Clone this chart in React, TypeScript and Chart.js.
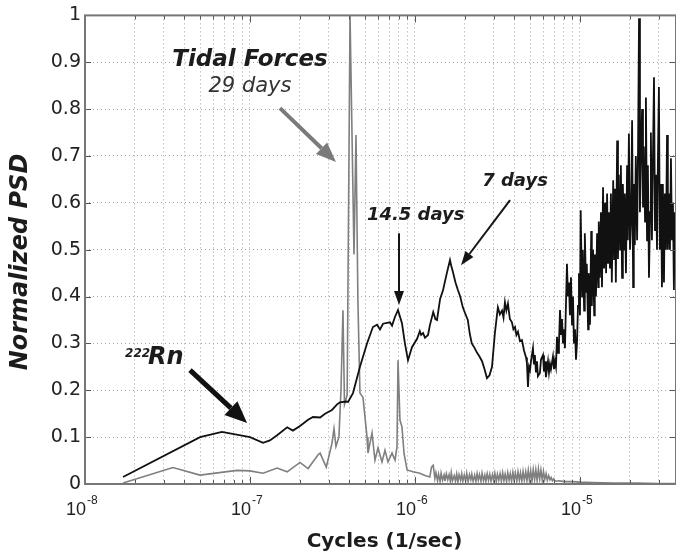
import { useEffect, useRef } from 'react';
import { Chart, registerables } from 'chart.js';

Chart.register(...registerables);

// ---- Data ----
// 222Rn spectrum (black)
const rnFreq = [
  1.70e-8, 4.98e-8, 6.76e-8, 1.00e-7, 1.20e-7, 1.32e-7, 1.46e-7, 1.68e-7, 1.82e-7, 2.01e-7,
  2.25e-7, 2.41e-7, 2.66e-7, 2.85e-7, 3.14e-7, 3.37e-7, 3.51e-7, 3.82e-7, 3.93e-7, 4.21e-7,
  4.64e-7, 5.12e-7, 5.56e-7, 5.89e-7, 6.14e-7, 6.40e-7, 7.05e-7, 7.26e-7, 7.57e-7, 7.89e-7,
  8.34e-7, 8.69e-7, 9.07e-7, 9.59e-7, 1.03e-6, 1.07e-6, 1.09e-6, 1.12e-6, 1.15e-6, 1.20e-6,
  1.23e-6, 1.29e-6, 1.33e-6, 1.36e-6, 1.42e-6, 1.48e-6, 1.56e-6, 1.63e-6, 1.66e-6, 1.70e-6,
  1.76e-6, 1.82e-6, 1.88e-6, 1.95e-6, 2.01e-6, 2.09e-6, 2.15e-6, 2.21e-6, 2.30e-6, 2.38e-6,
  2.46e-6, 2.55e-6, 2.64e-6, 2.73e-6, 2.83e-6, 2.93e-6, 3.05e-6, 3.18e-6, 3.27e-6, 3.37e-6,
  3.44e-6, 3.51e-6, 3.58e-6, 3.66e-6, 3.76e-6, 3.87e-6, 3.95e-6, 4.04e-6, 4.12e-6, 4.21e-6,
  4.33e-6,
  4.45e-6, 4.58e-6, 4.71e-6, 4.77e-6, 4.84e-6, 4.91e-6, 4.98e-6, 5.05e-6, 5.19e-6, 5.26e-6,
  5.33e-6, 5.41e-6, 5.49e-6, 5.56e-6, 5.72e-6, 5.80e-6, 5.97e-6, 6.05e-6, 6.14e-6, 6.22e-6,
  6.40e-6, 6.49e-6, 6.58e-6, 6.67e-6, 6.86e-6, 6.96e-6, 7.05e-6, 7.15e-6, 7.26e-6, 7.36e-6,
  7.46e-6, 7.57e-6, 7.68e-6, 7.78e-6, 7.89e-6, 8.00e-6, 8.11e-6, 8.22e-6, 8.34e-6, 8.46e-6,
  8.58e-6, 8.69e-6, 8.82e-6, 8.95e-6, 9.07e-6, 9.20e-6, 9.33e-6, 9.46e-6, 9.59e-6, 9.73e-6,
  9.86e-6, 1.00e-5, 1.01e-5, 1.03e-5, 1.04e-5, 1.06e-5, 1.07e-5, 1.09e-5, 1.10e-5, 1.12e-5,
  1.13e-5, 1.15e-5, 1.17e-5, 1.18e-5, 1.20e-5, 1.22e-5, 1.23e-5, 1.25e-5, 1.27e-5, 1.29e-5,
  1.30e-5, 1.32e-5, 1.34e-5, 1.36e-5, 1.38e-5, 1.40e-5, 1.42e-5, 1.44e-5, 1.46e-5, 1.48e-5,
  1.50e-5, 1.52e-5, 1.54e-5, 1.56e-5, 1.59e-5, 1.61e-5, 1.63e-5, 1.65e-5, 1.68e-5, 1.70e-5,
  1.72e-5, 1.75e-5, 1.77e-5, 1.80e-5, 1.82e-5, 1.85e-5, 1.87e-5, 1.90e-5, 1.93e-5, 1.95e-5,
  1.98e-5, 2.01e-5, 2.04e-5, 2.07e-5, 2.10e-5, 2.12e-5, 2.15e-5, 2.18e-5, 2.22e-5, 2.25e-5,
  2.28e-5, 2.31e-5, 2.34e-5, 2.38e-5, 2.41e-5, 2.44e-5, 2.48e-5, 2.51e-5, 2.55e-5, 2.58e-5,
  2.62e-5, 2.66e-5, 2.69e-5, 2.73e-5, 2.77e-5, 2.81e-5, 2.85e-5, 2.89e-5, 2.93e-5, 2.97e-5,
  3.01e-5, 3.05e-5, 3.10e-5, 3.14e-5, 3.18e-5, 3.23e-5, 3.27e-5, 3.32e-5, 3.37e-5, 3.41e-5,
  3.46e-5, 3.51e-5, 3.56e-5, 3.61e-5, 3.66e-5, 3.71e-5, 3.76e-5, 3.82e-5,
];
const rnPsd = [
  0.015, 0.100, 0.111, 0.100, 0.088, 0.093, 0.104, 0.121, 0.114, 0.124,
  0.137, 0.143, 0.142, 0.150, 0.158, 0.170, 0.174, 0.176, 0.175, 0.194,
  0.250, 0.300, 0.335, 0.340, 0.330, 0.342, 0.345, 0.338, 0.357, 0.371,
  0.343, 0.300, 0.264, 0.292, 0.310, 0.326, 0.318, 0.322, 0.312, 0.318,
  0.338, 0.367, 0.352, 0.350, 0.395, 0.414, 0.450, 0.478, 0.465, 0.452,
  0.430, 0.414, 0.400, 0.377, 0.365, 0.350, 0.320, 0.300, 0.290, 0.280,
  0.272, 0.262, 0.245, 0.226, 0.232, 0.250, 0.322, 0.377, 0.362, 0.370,
  0.355, 0.388, 0.370, 0.385, 0.352, 0.345, 0.330, 0.335, 0.318, 0.325,
  0.305,
  0.307, 0.285, 0.270, 0.258, 0.207, 0.250, 0.243, 0.262, 0.290, 0.255,
  0.275, 0.238, 0.262, 0.230, 0.237, 0.265, 0.275, 0.240, 0.262, 0.228,
  0.262, 0.238, 0.256, 0.245, 0.272, 0.245, 0.262, 0.250, 0.314, 0.280,
  0.300, 0.371, 0.320, 0.352, 0.300, 0.330, 0.290, 0.380, 0.470, 0.400,
  0.430, 0.360, 0.441, 0.340, 0.400, 0.300, 0.330, 0.265, 0.300, 0.380,
  0.450, 0.360, 0.584, 0.400, 0.500, 0.370, 0.535, 0.410, 0.470, 0.330,
  0.450, 0.340, 0.540, 0.380, 0.500, 0.360, 0.490, 0.400, 0.535, 0.420,
  0.560, 0.440, 0.580, 0.420, 0.633, 0.460, 0.600, 0.450, 0.620, 0.470,
  0.580, 0.460, 0.620, 0.430, 0.648, 0.480, 0.630, 0.430, 0.733, 0.480,
  0.660, 0.500, 0.680, 0.440, 0.640, 0.500, 0.620, 0.450, 0.680, 0.520,
  0.748, 0.500, 0.560, 0.776, 0.420, 0.640, 0.510, 0.700, 0.520, 0.720,
  0.994, 0.580, 0.700, 0.800, 0.590, 0.720, 0.560, 0.825, 0.520, 0.680,
  0.440, 0.580, 0.750, 0.520, 0.700, 0.868, 0.540, 0.660, 0.500, 0.700,
  0.847, 0.500, 0.640, 0.420, 0.640, 0.430, 0.620, 0.500, 0.745, 0.500,
  0.620, 0.500, 0.695, 0.520, 0.600, 0.414, 0.580, 0.540,
];

// Tidal forces spectrum (gray)
const tidalFreq = [
  1.70e-8, 3.41e-8, 4.98e-8, 8.34e-8, 1.00e-7, 1.20e-7, 1.46e-7, 1.68e-7, 2.01e-7, 2.25e-7,
  2.58e-7, 2.66e-7, 2.90e-7, 3.14e-7, 3.23e-7, 3.32e-7, 3.46e-7, 3.56e-7, 3.66e-7, 3.74e-7,
  3.88e-7, 4.04e-7, 4.27e-7, 4.39e-7, 4.51e-7, 4.64e-7, 4.84e-7, 5.12e-7, 5.19e-7, 5.49e-7,
  5.72e-7, 5.97e-7, 6.31e-7, 6.58e-7, 6.86e-7, 7.26e-7, 7.57e-7, 7.78e-7, 7.89e-7, 8.11e-7,
  8.34e-7, 8.58e-7, 8.95e-7, 9.72e-7, 1.07e-6, 1.15e-6, 1.23e-6, 1.26e-6, 1.29e-6,
  1.32e-6, 1.34e-6, 1.37e-6, 1.39e-6, 1.42e-6, 1.44e-6, 1.47e-6, 1.50e-6, 1.52e-6, 1.55e-6,
  1.58e-6, 1.61e-6, 1.64e-6, 1.66e-6, 1.69e-6, 1.73e-6, 1.76e-6, 1.79e-6, 1.82e-6, 1.85e-6,
  1.89e-6, 1.92e-6, 1.95e-6, 1.99e-6, 2.03e-6, 2.06e-6, 2.10e-6, 2.14e-6, 2.18e-6, 2.21e-6,
  2.25e-6, 2.30e-6, 2.34e-6, 2.38e-6, 2.42e-6, 2.46e-6, 2.51e-6, 2.55e-6, 2.60e-6, 2.65e-6,
  2.69e-6, 2.74e-6, 2.79e-6, 2.84e-6, 2.89e-6, 2.95e-6, 3.00e-6, 3.05e-6, 3.11e-6, 3.16e-6,
  3.22e-6, 3.28e-6, 3.34e-6, 3.40e-6, 3.46e-6, 3.52e-6, 3.59e-6, 3.65e-6, 3.72e-6, 3.78e-6,
  3.85e-6, 3.92e-6, 3.99e-6, 4.06e-6, 4.14e-6, 4.21e-6, 4.29e-6, 4.36e-6, 4.44e-6, 4.52e-6,
  4.60e-6, 4.69e-6, 4.77e-6, 4.86e-6, 4.94e-6, 5.03e-6, 5.12e-6, 5.21e-6, 5.31e-6, 5.40e-6,
  5.50e-6, 5.60e-6, 5.70e-6, 5.80e-6, 5.91e-6, 6.01e-6, 6.12e-6, 6.23e-6, 6.34e-6, 6.46e-6,
  6.58e-6, 6.69e-6, 6.81e-6, 6.94e-6, 7.06e-6,
  7.50e-6, 8.00e-6, 9.00e-6, 1.00e-5, 1.20e-5, 1.60e-5, 2.20e-5, 3.00e-5, 3.82e-5,
];
const tidalPsd = [
  0.002, 0.035, 0.019, 0.029, 0.028, 0.023, 0.034, 0.026, 0.046, 0.033,
  0.062, 0.066, 0.036, 0.087, 0.118, 0.080, 0.100, 0.200, 0.371, 0.170,
  0.190, 1.000, 0.490, 0.745, 0.390, 0.194, 0.185, 0.100, 0.066, 0.109,
  0.051, 0.077, 0.047, 0.072, 0.047, 0.066, 0.051, 0.079, 0.264, 0.136,
  0.122, 0.066, 0.030, 0.026, 0.023, 0.018, 0.015, 0.036, 0.040,
  0.012, 0.024, 0.007, 0.021, 0.005, 0.023, 0.008, 0.019, 0.006, 0.022,
  0.009, 0.020, 0.005, 0.024, 0.007, 0.018, 0.006, 0.021, 0.004, 0.020,
  0.008, 0.022, 0.006, 0.019, 0.007, 0.023, 0.005, 0.020, 0.009, 0.021,
  0.006, 0.019, 0.005, 0.022, 0.008, 0.020, 0.006, 0.023, 0.007, 0.019,
  0.005, 0.022, 0.008, 0.021, 0.006, 0.020, 0.007, 0.023, 0.005, 0.021,
  0.008, 0.022, 0.006, 0.024, 0.007, 0.021, 0.005, 0.024, 0.008, 0.022,
  0.006, 0.025, 0.007, 0.023, 0.006, 0.026, 0.008, 0.024, 0.006, 0.027,
  0.008, 0.026, 0.007, 0.029, 0.008, 0.028, 0.006, 0.031, 0.009, 0.030,
  0.007, 0.032, 0.010, 0.030, 0.008, 0.027, 0.010, 0.022, 0.008, 0.018,
  0.009, 0.014, 0.007, 0.011, 0.006,
  0.007, 0.005, 0.005, 0.004, 0.003, 0.002, 0.002, 0.001, 0.001,
];

// Axis ticks
const xMin = 1e-8;
const xMax = 3.82e-5;
const xTickValues = [1e-8, 1e-7, 1e-6, 1e-5];
const xTickBases = ['10', '10', '10', '10'];
const xTickExponents = ['-8', '-7', '-6', '-5'];
const xMinorMultipliers = [2, 3, 4, 5, 6, 7, 8, 9];
const yTickValues = [0, 0.1, 0.2, 0.3, 0.4, 0.5, 0.6, 0.7, 0.8, 0.9, 1];

const xTitle = 'Cycles (1/sec)';
const yTitle = 'Normalized PSD';

// Annotations (anchored in data coordinates)
const notes = [
  { text: 'Tidal Forces', f: 1.0e-7, v: 0.893, font: 'italic bold 23px "DejaVu Sans"', color: '#1c1c1c', align: 'center' },
  { text: '29 days', f: 1.0e-7, v: 0.836, font: 'italic 21px "DejaVu Sans"', color: '#333333', align: 'center' },
  { text: '14.5 days', f: 1.01e-6, v: 0.563, font: 'italic bold 18px "DejaVu Sans"', color: '#1c1c1c', align: 'center' },
  { text: '7 days', f: 4.04e-6, v: 0.635, font: 'italic bold 18px "DejaVu Sans"', color: '#1c1c1c', align: 'center' },
  { text: '222', f: 1.75e-8, v: 0.271, font: 'italic bold 12px "DejaVu Sans"', color: '#1c1c1c', align: 'left' },
  { text: 'Rn', f: 2.41e-8, v: 0.256, font: 'italic bold 24px "DejaVu Sans"', color: '#1c1c1c', align: 'left' },
];
const arrows = [
  { f1: 1.52e-7, v1: 0.802, f2: 3.32e-7, v2: 0.687, color: '#7a7a7a', width: 4, head: 20, headW: 16 },
  { f1: 8.0e-7, v1: 0.535, f2: 8.0e-7, v2: 0.382, color: '#151515', width: 2, head: 14, headW: 10 },
  { f1: 3.77e-6, v1: 0.606, f2: 1.90e-6, v2: 0.467, color: '#151515', width: 2, head: 14, headW: 10 },
  { f1: 4.33e-8, v1: 0.243, f2: 9.6e-8, v2: 0.130, color: '#111111', width: 5, head: 22, headW: 19 },
];

function drawArrow(ctx: CanvasRenderingContext2D, x1: number, y1: number, x2: number, y2: number,
  color: string, width: number, head: number, headW: number) {
  const ang = Math.atan2(y2 - y1, x2 - x1);
  const bx = x2 - head * Math.cos(ang);
  const by = y2 - head * Math.sin(ang);
  ctx.strokeStyle = color;
  ctx.fillStyle = color;
  ctx.lineWidth = width;
  ctx.lineCap = 'butt';
  ctx.beginPath();
  ctx.moveTo(x1, y1);
  ctx.lineTo(bx, by);
  ctx.stroke();
  const nx = -Math.sin(ang) * headW / 2;
  const ny = Math.cos(ang) * headW / 2;
  ctx.beginPath();
  ctx.moveTo(x2, y2);
  ctx.lineTo(bx + nx, by + ny);
  ctx.lineTo(bx - nx, by - ny);
  ctx.closePath();
  ctx.fill();
}

const decorPlugin = {
  id: 'decor',
  afterDraw(chart: any) {
    const { ctx, chartArea: a, scales } = chart;
    const xs = scales.x;
    const ys = scales.y;
    ctx.save();
    // inner tick marks
    ctx.strokeStyle = '#555';
    ctx.lineWidth = 1;
    ctx.setLineDash([]);
    for (const t of xs.ticks) {
      const px = Math.round(xs.getPixelForValue(t.value)) + 0.5;
      const len = xTickValues.includes(t.value) ? 7 : 4;
      ctx.beginPath();
      ctx.moveTo(px, a.bottom);
      ctx.lineTo(px, a.bottom - len);
      ctx.moveTo(px, a.top);
      ctx.lineTo(px, a.top + len);
      ctx.stroke();
    }
    for (const v of yTickValues) {
      const py = Math.round(ys.getPixelForValue(v)) + 0.5;
      ctx.beginPath();
      ctx.moveTo(a.left, py);
      ctx.lineTo(a.left + 6, py);
      ctx.moveTo(a.right, py);
      ctx.lineTo(a.right - 6, py);
      ctx.stroke();
    }
    // frame
    ctx.strokeStyle = '#777';
    ctx.lineWidth = 2;
    ctx.strokeRect(a.left, a.top, a.right - a.left, a.bottom - a.top);

    // x tick labels: base with raised exponent
    ctx.fillStyle = '#222';
    ctx.textBaseline = 'alphabetic';
    xTickValues.forEach((v, i) => {
      const px = xs.getPixelForValue(v);
      ctx.font = '18px "Liberation Sans Narrow", "Liberation Sans", sans-serif';
      ctx.textAlign = 'right';
      ctx.fillText(xTickBases[i], px + 1, a.bottom + 31);
      ctx.font = '12px "Liberation Sans Narrow", "Liberation Sans", sans-serif';
      ctx.textAlign = 'left';
      ctx.fillText(xTickExponents[i], px + 2, a.bottom + 20);
    });

    // arrows
    for (const ar of arrows) {
      drawArrow(ctx, xs.getPixelForValue(ar.f1), ys.getPixelForValue(ar.v1),
        xs.getPixelForValue(ar.f2), ys.getPixelForValue(ar.v2), ar.color, ar.width, ar.head, ar.headW);
    }
    // texts
    for (const n of notes) {
      ctx.font = n.font;
      ctx.fillStyle = n.color;
      ctx.textAlign = n.align as CanvasTextAlign;
      ctx.fillText(n.text, xs.getPixelForValue(n.f), ys.getPixelForValue(n.v));
    }
    // axis titles
    ctx.fillStyle = '#1c1c1c';
    ctx.font = 'bold 20px "DejaVu Sans"';
    ctx.textAlign = 'center';
    ctx.fillText(xTitle, (a.left + a.right) / 2 + 4, 547);
    ctx.save();
    ctx.translate(27, 262);
    ctx.rotate(-Math.PI / 2);
    ctx.font = 'italic bold 24px "DejaVu Sans"';
    ctx.fillText(yTitle, 0, 0);
    ctx.restore();
    ctx.restore();
  },
};

export default function App() {
  const ref = useRef<HTMLCanvasElement | null>(null);
  useEffect(() => {
    if (!ref.current) return;
    const rnPts = rnFreq.map((f, i) => ({ x: f, y: rnPsd[i] }));
    const tidalPts = tidalFreq.map((f, i) => ({ x: f, y: tidalPsd[i] }));
    const xGrid: number[] = [];
    for (const d of xTickValues) {
      xGrid.push(d);
      for (const m of xMinorMultipliers) {
        const v = m * d;
        if (v < xMax) xGrid.push(v);
      }
    }
    const chart = new Chart(ref.current, {
      type: 'line',
      data: {
        datasets: [
          { label: '222Rn', data: rnPts, borderColor: '#111111', borderWidth: 1.8, pointRadius: 0, tension: 0, order: 0 },
          { label: 'Tidal Forces', data: tidalPts, borderColor: '#7f7f7f', borderWidth: 1.6, pointRadius: 0, tension: 0, order: 1 },
        ],
      },
      options: {
        animation: false,
        responsive: false,
        layout: { padding: { left: 0, right: 0, top: 15, bottom: 0 } },
        plugins: { legend: { display: false }, tooltip: { enabled: false } },
        scales: {
          x: {
            type: 'logarithmic',
            min: xMin,
            max: xMax,
            afterBuildTicks: (s: any) => { s.ticks = xGrid.map((v) => ({ value: v })); },
            afterFit: (s: any) => { s.height = 75; },
            ticks: { display: false, autoSkip: false, maxRotation: 0 },
            grid: { color: '#a5a5a5', lineWidth: 1, drawTicks: false },
            border: { display: false, dash: [1, 3] },
          },
          y: {
            min: 0,
            max: 1,
            afterBuildTicks: (s: any) => { s.ticks = yTickValues.map((v) => ({ value: v })); },
            afterFit: (s: any) => { s.width = 85; },
            ticks: {
              padding: 4,
              color: '#222',
              font: { family: '"DejaVu Sans", sans-serif', size: 19 },
              callback: (value: any) => String(Math.round(Number(value) * 10) / 10),
            },
            grid: { color: '#a5a5a5', lineWidth: 1, drawTicks: false },
            border: { display: false, dash: [1, 3] },
          },
        },
      },
      plugins: [decorPlugin],
    });
    return () => chart.destroy();
  }, []);
  return (
    <div style={{ position: 'absolute', left: 0, top: 0, width: 676, height: 559, background: '#fff' }}>
      <canvas ref={ref} width={676} height={559} style={{ display: 'block' }} />
    </div>
  );
}
